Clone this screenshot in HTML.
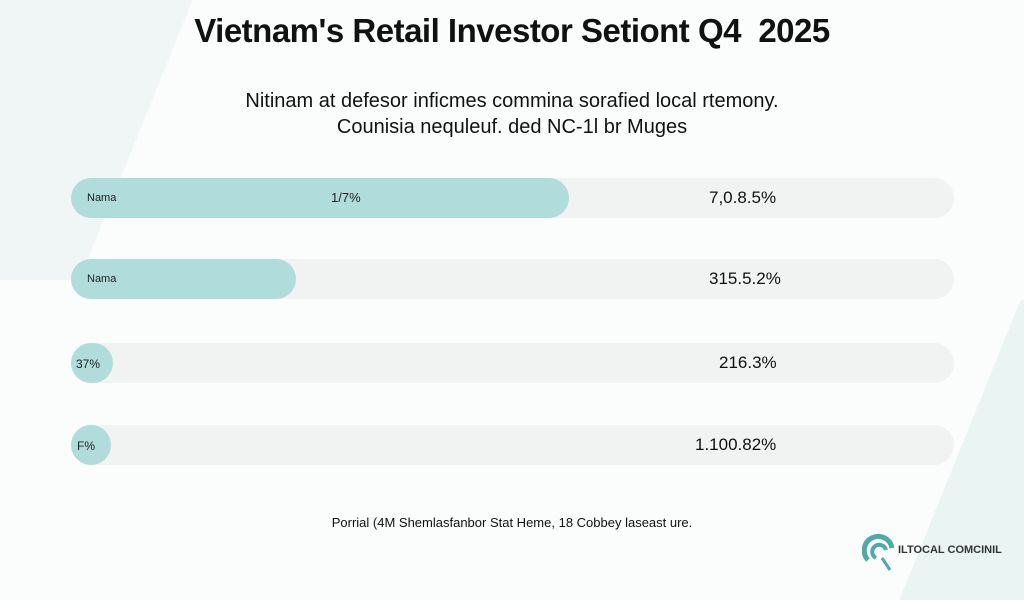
<!DOCTYPE html>
<html><head><meta charset="utf-8"><style>
body{margin:0;width:1024px;height:576px;overflow:hidden;background:#fbfcfc;font-family:"Liberation Sans",sans-serif;position:relative}
.bg1{position:absolute;left:-120px;top:-20px;width:260px;height:300px;background:#f0f6f6;transform:skewX(-22deg)}
.bg2{position:absolute;left:960px;top:300px;width:200px;height:300px;background:#e9f4f3;transform:skewX(-22deg)}
.t{position:absolute;left:0;width:1024px;text-align:center;color:#111}
.track{position:absolute;left:71px;width:883px;height:40px;border-radius:20px;background:#f1f2f2}
.fill{position:absolute;left:0;top:0;height:40px;border-radius:20px;background:#b0dcdc}
.l{position:absolute;font-size:11px;color:#222;top:14px}
.v{position:absolute;font-size:17px;color:#111;top:10px}
</style></head><body>
<div class="bg1"></div><div class="bg2"></div>
<div class="t" style="top:12px;font-size:33px;font-weight:bold;letter-spacing:-0.5px">Vietnam's Retail Investor Setiont Q4&nbsp; 2025</div>
<div class="t" style="top:90px;font-size:20px">Nitinam at defesor inficmes commina sorafied local rtemony.</div>
<div class="t" style="top:116px;font-size:20px">Counisia nequleuf. ded NC-1l br Muges</div>
<div class="track" style="top:178px"><div class="fill" style="width:498px"></div><span class="l" style="left:16px">Nama</span><span class="l" style="left:260px;font-size:13px;top:12px">1/7%</span><span class="v" style="left:638px">7,0.8.5%</span></div>
<div class="track" style="top:259px"><div class="fill" style="width:225px"></div><span class="l" style="left:16px">Nama</span><span class="v" style="left:638px">315.5.2%</span></div>
<div class="track" style="top:343px"><div class="fill" style="width:42px"></div><span class="l" style="left:5px;font-size:12px">37%</span><span class="v" style="left:648px">216.3%</span></div>
<div class="track" style="top:425px"><div class="fill" style="width:40px"></div><span class="l" style="left:6px;font-size:12px">F%</span><span class="v" style="left:624px">1.100.82%</span></div>
<div class="t" style="top:515px;font-size:13px">Porrial (4M Shemlasfanbor Stat Heme, 18 Cobbey laseast ure.</div>
<svg style="position:absolute;left:862px;top:530px" width="40" height="42"><path d="M6 30 A14 14 0 1 1 30 18" stroke="#4fa9a9" stroke-width="5" fill="none"/><path d="M14 28 A7 7 0 1 1 24 20" stroke="#4fa9a9" stroke-width="4" fill="none"/><line x1="20" y1="28" x2="28" y2="40" stroke="#4fa9a9" stroke-width="3"/></svg>
<div style="position:absolute;left:898px;top:544px;font-size:11px;color:#333;font-weight:bold">ILTOCAL COMCINIL</div>
</body></html>
